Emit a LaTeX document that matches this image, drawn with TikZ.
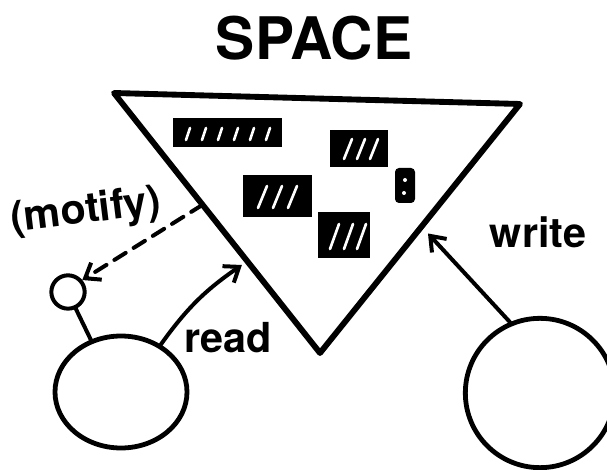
\documentclass[tikz,border=0pt]{standalone}
\usepackage{fontspec}
\setmainfont{TeX Gyre Heros}
\usetikzlibrary{arrows.meta, shapes.geometric, calc}

\tikzset{
  process/.style={draw, ellipse, line width=3.6pt, inner sep=0pt},
  link/.style={line width=3pt, -{Straight Barb[length=10pt, width=15pt, line width=3pt]}},
  label/.style={font=\bfseries\fontsize{31}{33}\selectfont, inner sep=0pt},
}

\begin{document}
\begin{tikzpicture}[x=0.75pt, y=-0.75pt, line cap=round, line join=round]
  \useasboundingbox (0,0) rectangle (607,470);

  % Title
  \node[font=\bfseries\fontsize{44}{46}\selectfont] (title) at (314,38) {SPACE};

  % The space
  \coordinate (tl) at (114,93);
  \coordinate (tr) at (520,104);
  \coordinate (bot) at (320,353);
  \draw[line width=4.4pt] (tl) -- (tr) -- (bot) -- cycle;
  \coordinate (motpt)  at ($(tl)!0.43!(bot)$);
  \coordinate (readpt) at ($(tl)!0.65!(bot)$);
  \coordinate (writept) at ($(tr)!0.52!(bot)$);

  % Entries
  \fill (173,118) rectangle (282,147);
  \foreach \x in {186,202,...,266}
    \draw[white, line width=2pt] (\x,140) -- (\x+4,128);
  \fill (330,130) rectangle (388,167);
  \foreach \x in {344,357,370}
    \draw[white, line width=2pt] (\x,159) -- (\x+8,139);
  \fill (243,175) rectangle (312,217);
  \foreach \x in {258,273,288}
    \draw[white, line width=2pt] (\x,208) -- (\x+9,186);
  \fill (318,212) rectangle (370,258);
  \foreach \x in {330,344,357}
    \draw[white, line width=2pt] (\x,249) -- (\x+9,224);
  \fill[rounded corners=3pt] (395,168) rectangle (415,203);
  \fill[white] (405,180) circle (2);
  \fill[white] (404,193) circle (2);

  % Processes
  \node[process, minimum width=99pt, minimum height=84pt] (reader) at (121,392) {};
  \node[process, line width=3pt, minimum size=25pt, circle] (watcher) at (68,292) {};
  \node[process, minimum width=112pt, minimum height=112pt] (writer) at (540,393) {};

  % Operations
  \draw[line width=3pt] (watcher.-65) -- (reader.120);
  \draw[link] (reader.50) to[bend left=10] ([shift={(-6,3)}]readpt);
  \draw[link, dash pattern=on 10pt off 7pt] (motpt) -- (watcher.40);
  \draw[link] (writer.113) -- ([shift={(12,0)}]writept);

  % Labels
  \node[label, rotate=7] (motify) at (86,212) {(motify)};
  \node[label] (read) at (228,338) {read};
  \node[label] (write) at (538,232) {write};
\end{tikzpicture}
\end{document}
